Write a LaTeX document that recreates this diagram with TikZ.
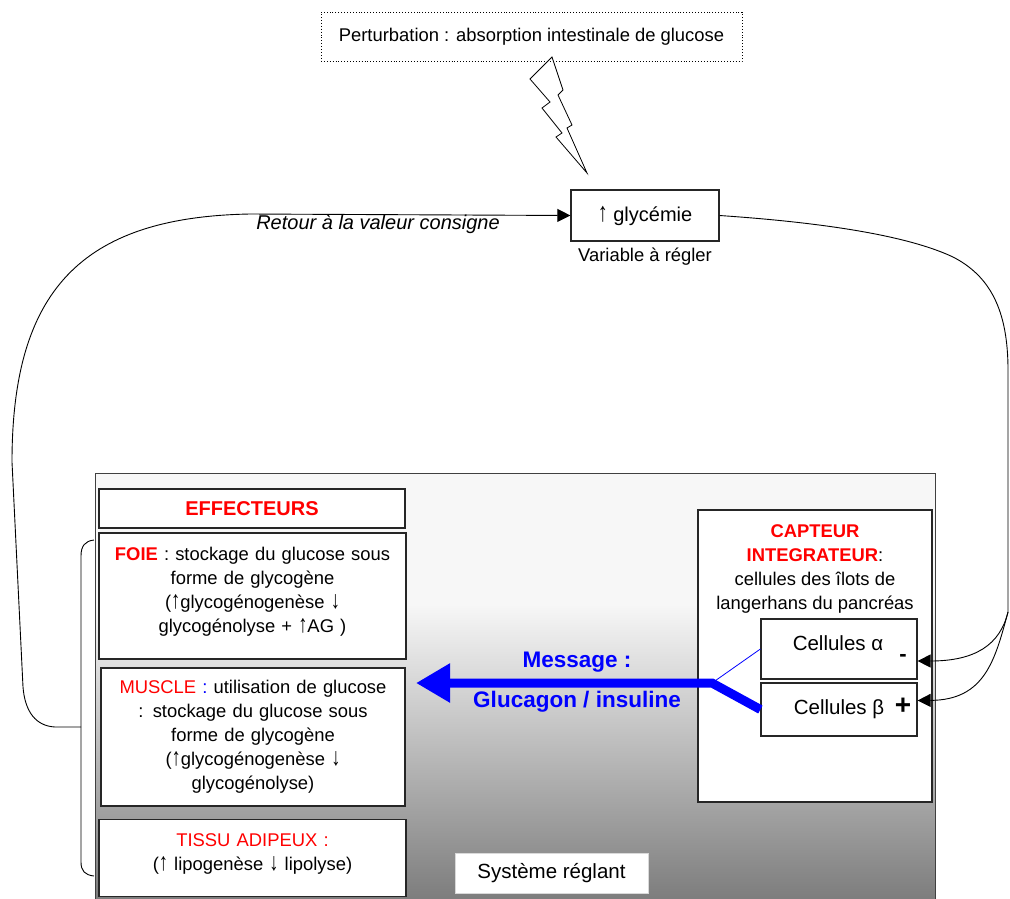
\documentclass[tikz,border=0pt]{standalone}
\usepackage{fontspec}
\usepackage{graphicx}
\setmainfont{Liberation Sans}
\usetikzlibrary{arrows.meta,positioning}

\pgfdeclareverticalshading{fondsysteme}{100bp}{color(0bp)=(black!52); color(25bp)=(black!52); color(60bp)=(black!3); color(100bp)=(black!3)}

\newcommand{\enrouge}[1]{\textcolor{red}{#1}}
\newcommand{\monte}{\scalebox{1}[1.35]{↑}}
\newcommand{\baisse}{\scalebox{1}[1.35]{↓}}

\tikzset{
  boite/.style={rectangle, draw=black!85, line width=1.2pt, fill=white, align=center, inner sep=2pt, font=\fontsize{18.4}{24}\selectfont},
  texte/.style={align=center, inner sep=1pt, font=\fontsize{18.4}{24}\selectfont},
  lien/.style={line width=0.9pt, -{Triangle[length=13pt,width=13pt]}},
  bleu/.style={blue, font=\fontsize{22.5}{26}\selectfont\bfseries}
}

\begin{document}
\begin{tikzpicture}[x=1pt, y=-1pt]
\useasboundingbox (0,0) rectangle (1010,898);

% systeme reglant (fond)
\node (systeme) [shade, shading=fondsysteme, draw=black!75, line width=1pt, minimum width=840pt, minimum height=432pt, anchor=north west, inner sep=0pt] at (95,473) {};

% perturbation
\node (perturb) [rectangle, draw, dotted, line width=0.9pt, minimum width=421pt, minimum height=49pt, font=\fontsize{18.4}{22}\selectfont] at (531.5,36.5) {Perturbation : absorption intestinale de glucose};
\draw[line width=0.8pt, line join=miter] (552,57) -- (530,79) -- (550,102) -- (542,108) -- (562,133) -- (556,137) -- (587,173) -- (567,128) -- (572,125) -- (558,95) -- (563,90) -- cycle;

% variable a regler
\node (gly) [boite, minimum width=148pt, minimum height=51pt, font=\fontsize{20}{24}\selectfont] at (645,215.5) {\monte{} glycémie};
\node (variable) [texte, below=5pt of gly] {Variable à régler};

% effecteurs
\node (effect) [boite, minimum width=306pt, minimum height=39pt, font=\fontsize{20}{22}\selectfont\bfseries] at (252,508.5) {\enrouge{EFFECTEURS}};
\node (foie) [boite, minimum width=307pt, minimum height=126pt, text width=300pt] at (252.5,596) {\enrouge{\textbf{FOIE}} : stockage du glucose sous\\ forme de glycogène\\ (\monte glycogénogenèse \baisse\\ glycogénolyse + \monte AG )\\[-12pt]\mbox{}};
\node (muscle) [boite, minimum width=304pt, minimum height=138pt, text width=298pt] at (253,737) {\enrouge{MUSCLE} \textcolor{blue}{:} utilisation de glucose\\ : stockage du glucose sous\\ forme de glycogène\\ (\monte glycogénogenèse \baisse\\ glycogénolyse)};
\node (tissu) [boite, minimum width=307pt, minimum height=77pt, text width=300pt] at (252.5,858) {\enrouge{TISSU ADIPEUX :}\\ (\monte{} lipogenèse \baisse{} lipolyse)\\[-12pt]\mbox{}};

% capteur integrateur
\node (capteur) [boite, minimum width=234pt, minimum height=292pt] at (815,656) {};
\node (capteurtxt) [texte, below=14pt of capteur.north] {\enrouge{\textbf{CAPTEUR}}\\ \enrouge{\textbf{INTEGRATEUR}}:\\ cellules des îlots de\\ langerhans du pancréas};
\node (alpha) [boite, minimum width=156pt, minimum height=60pt] at (839,649) {};
\node (alphatxt) [texte, font=\fontsize{20.5}{24}\selectfont] at (838,643) {Cellules α};
\node (beta) [boite, minimum width=156pt, minimum height=53pt, font=\fontsize{20.5}{24}\selectfont] at (839,709.5) {Cellules β};
\node (moins) [font=\fontsize{22}{22}\selectfont\bfseries, inner sep=0pt] at (903,658) {-};
\node (plus) [font=\fontsize{28}{28}\selectfont\bfseries, inner sep=0pt] at (903,706) {+};

% message
\coordinate (coude) at (712,683);
\coordinate (pointe) at (416,683);
\draw[blue, line width=0.8pt] (alpha.west) -- (coude);
\draw[blue, line width=9pt, -{Triangle[length=34pt,width=37pt]}] (beta.west) -- (coude) -- (pointe);
\node (message) [bleu] at (577,662) {Message :};
\node (hormone) [bleu] at (577,702) {Glucagon / insuline};

\node (reglant) [fill=white, draw=black!15, minimum width=193pt, minimum height=40pt, font=\fontsize{20.5}{24}\selectfont] at (551.5,873) {Système réglant};

% boucle de retour
\draw[line width=0.9pt] (94,540) .. controls (85,541) and (81,546) .. (81,556) -- (81,862) .. controls (81,871) and (85,875) .. (94,876);
\coordinate (jonction) at (81,727);
\draw[lien] (jonction) -- (55,727) .. controls (36,726) and (25,712) .. (23,687) -- (12,462) .. controls (12,292) and (80,217) .. (250,214) -- (gly.west);
\node (retour) [texte, font=\fontsize{20}{24}\selectfont\itshape] at (378,224) {Retour à la valeur consigne};

% vers le capteur
\coordinate (fourche) at (1008,612);
\draw[line width=0.9pt] (gly.east) .. controls (800,221) and (900,232) .. (953,257) .. controls (990,276) and (1008,310) .. (1008,370) -- (fourche);
\draw[lien] (fourche) .. controls (1000,645) and (975,661) .. ([yshift=-12pt]alpha.east);
\draw[lien] (fourche) .. controls (995,660) and (985,700) .. ([yshift=9pt]beta.east);

\end{tikzpicture}
\end{document}
